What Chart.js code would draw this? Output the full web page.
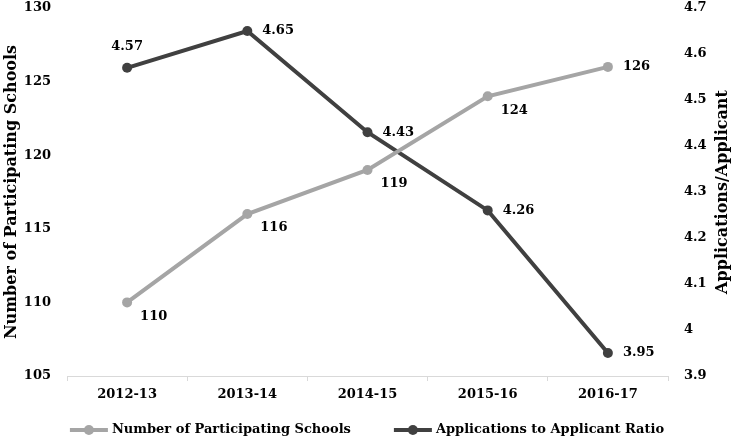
<!DOCTYPE html>
<html>
<head>
<meta charset="utf-8">
<script src="https://cdn.jsdelivr.net/npm/chart.js@4.4.1/dist/chart.umd.min.js"></script>
<style>
  html, body { margin: 0; padding: 0; background: #fff; }
  #wrap { width: 734px; height: 441px; }
</style>
</head>
<body>
<div id="wrap"><canvas id="chart"></canvas></div>
<script>
var years = ["2012-13", "2013-14", "2014-15", "2015-16", "2016-17"];
var schools = [110, 116, 119, 124, 126];
var ratio = [4.57, 4.65, 4.43, 4.26, 3.95];

var schoolsLabelPos = ["belowright", "belowright", "belowright", "belowright", "right"];
var ratioLabelPos = ["above", "right", "right", "right", "right"];

var FONT = "'DejaVu Serif', serif";
var LIGHT = "#a5a5a5";
var DARK = "#404040";

var valueLabels = {
    id: "valueLabels",
    afterDatasetsDraw: function(chart){
        var ctx = chart.ctx;
        ctx.save();
        ctx.font = "bold 13px " + FONT;
        ctx.fillStyle = "#000";
        chart.data.datasets.forEach(function(ds, i){
            var meta = chart.getDatasetMeta(i);
            meta.data.forEach(function(pt, j){
                var txt = i == 1 ? ds.data[j].toFixed(2) : String(ds.data[j]);
                var pos = ds.labelPos[j];
                if(pos == "above"){
                    ctx.textAlign = "center"; ctx.textBaseline = "middle";
                    ctx.fillText(txt, pt.x, pt.y - 21);
                } else if(pos == "belowright"){
                    ctx.textAlign = "left"; ctx.textBaseline = "middle";
                    ctx.fillText(txt, pt.x + 13, pt.y + 14);
                } else {
                    ctx.textAlign = "left"; ctx.textBaseline = "middle";
                    ctx.fillText(txt, pt.x + 15, pt.y);
                }
            });
        });
        ctx.restore();
    }
};

// right title (reads bottom to top) and the line+dot legend at the bottom
var extras = {
    id: "extras",
    afterDraw: function(chart){
        var ctx = chart.ctx;
        var area = chart.chartArea;
        ctx.save();
        ctx.fillStyle = "#000";
        ctx.font = "bold 16px " + FONT;
        ctx.translate(723, (area.top + area.bottom) / 2);
        ctx.rotate(-Math.PI / 2);
        ctx.textAlign = "center"; ctx.textBaseline = "middle";
        ctx.fillText("Applications/Applicant", 0, 0);
        ctx.restore();

        ctx.save();
        ctx.font = "bold 13px " + FONT;
        var sets = chart.data.datasets;
        var mark = 38, gapTxt = 4, gapItem = 43;
        var total = 0;
        sets.forEach(function(ds, i){
            total += mark + gapTxt + ctx.measureText(ds.label).width;
            if(i > 0) total += gapItem;
        });
        var x = chart.width / 2 - total / 2;
        var y = 430;
        sets.forEach(function(ds){
            ctx.strokeStyle = ds.borderColor;
            ctx.fillStyle = ds.borderColor;
            ctx.lineWidth = 4;
            ctx.beginPath(); ctx.moveTo(x, y); ctx.lineTo(x + mark, y); ctx.stroke();
            ctx.beginPath(); ctx.arc(x + mark / 2, y, 5, 0, Math.PI * 2); ctx.fill();
            ctx.fillStyle = "#000";
            ctx.textAlign = "left"; ctx.textBaseline = "middle";
            ctx.fillText(ds.label, x + mark + gapTxt, y);
            x += mark + gapTxt + ctx.measureText(ds.label).width + gapItem;
        });
        ctx.restore();
    }
};

new Chart(document.getElementById("chart"), {
    type: "line",
    data: {
        labels: years,
        datasets: [
            {
                label: "Number of Participating Schools",
                data: schools,
                yAxisID: "y",
                borderColor: LIGHT,
                backgroundColor: LIGHT,
                borderWidth: 4,
                pointRadius: 5,
                pointBackgroundColor: LIGHT,
                pointBorderWidth: 0,
                tension: 0,
                labelPos: schoolsLabelPos
            },
            {
                label: "Applications to Applicant Ratio",
                data: ratio,
                yAxisID: "y1",
                borderColor: DARK,
                backgroundColor: DARK,
                borderWidth: 4,
                pointRadius: 5,
                pointBackgroundColor: DARK,
                pointBorderWidth: 0,
                tension: 0,
                labelPos: ratioLabelPos
            }
        ]
    },
    options: {
        responsive: true,
        maintainAspectRatio: false,
        animation: false,
        layout: { padding: { top: 1, left: 0, right: 0, bottom: 35 } },
        plugins: {
            tooltip: { enabled: false },
            legend: { display: false }
        },
        scales: {
            x: {
                offset: true,
                afterFit: function(s){ s.height = 30; },
                grid: { offset: true, drawOnChartArea: false, drawTicks: true, tickLength: 5, color: "#d9d9d9" },
                border: { color: "#d9d9d9" },
                ticks: { color: "#000", font: { family: FONT, weight: "bold", size: 13 }, padding: 6 }
            },
            y: {
                position: "left",
                min: 105, max: 130,
                afterFit: function(s){ s.width = 67; s.paddingTop = 8; s.paddingBottom = 8; },
                ticks: { stepSize: 5, color: "#000", font: { family: FONT, weight: "bold", size: 13 }, padding: 8 },
                grid: { display: false },
                border: { display: false },
                title: { display: true, text: "Number of Participating Schools", color: "#000", font: { family: FONT, weight: "bold", size: 16 }, padding: 2 }
            },
            y1: {
                position: "right",
                min: 3.9, max: 4.7,
                afterFit: function(s){ s.width = 66; s.paddingTop = 8; s.paddingBottom = 8; },
                ticks: {
                    stepSize: 0.1, color: "#000", font: { family: FONT, weight: "bold", size: 13 }, padding: 8,
                    callback: function(v){ return parseFloat(v.toFixed(1)); }
                },
                grid: { display: false },
                border: { display: false }
            }
        }
    },
    plugins: [valueLabels, extras]
});
</script>
</body>
</html>
